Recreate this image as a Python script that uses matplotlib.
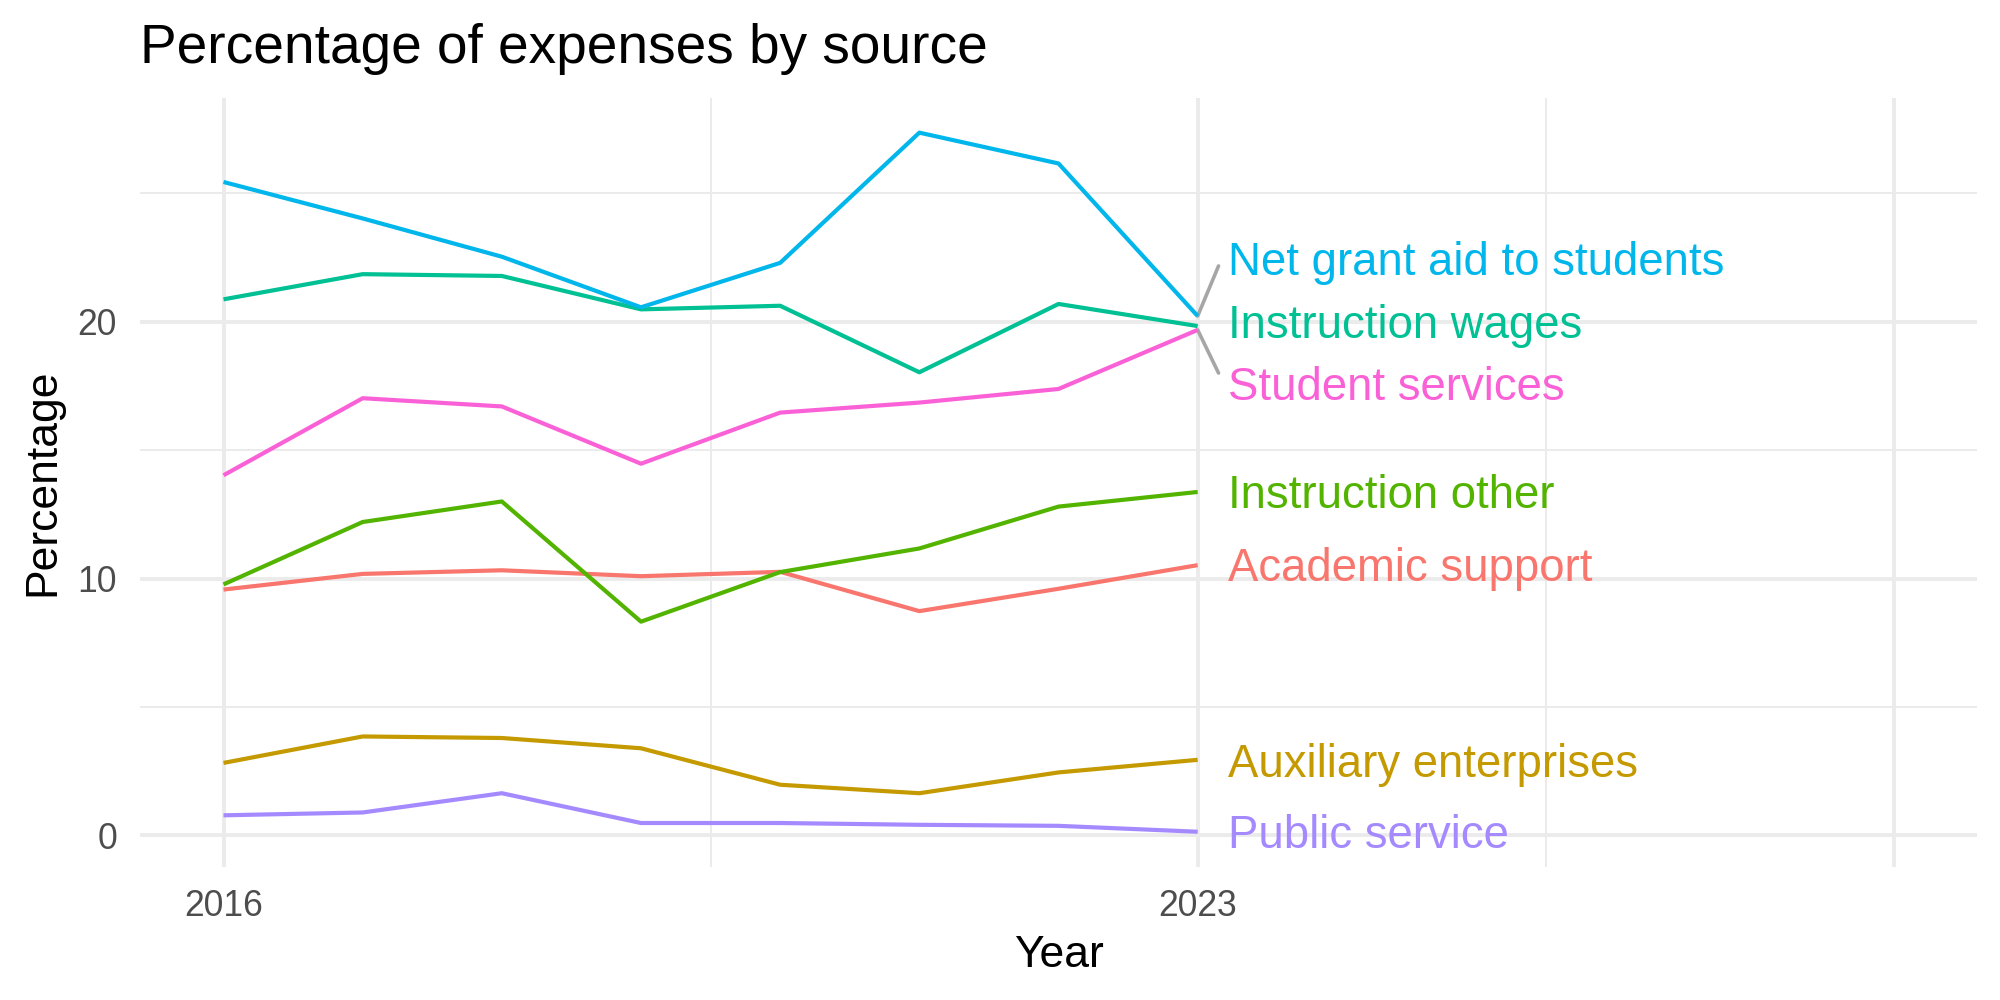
import matplotlib
matplotlib.use("Agg")
import matplotlib.pyplot as plt

plt.rcParams["font.family"] = ["Liberation Sans", "DejaVu Sans"]

# data
years = [2016, 2017, 2018, 2019, 2020, 2021, 2022, 2023]

academic_support = [9.57, 10.18, 10.32, 10.09, 10.26, 8.73, 9.60, 10.52]
auxiliary_enterprises = [2.82, 3.85, 3.79, 3.39, 1.97, 1.64, 2.45, 2.94]
instruction_other = [9.77, 12.20, 13.00, 8.32, 10.25, 11.17, 12.80, 13.37]
instruction_wages = [20.87, 21.85, 21.78, 20.48, 20.62, 18.03, 20.69, 19.83]
net_grant_aid = [25.44, 24.02, 22.53, 20.56, 22.29, 27.36, 26.16, 20.22]
public_service = [0.78, 0.89, 1.64, 0.48, 0.48, 0.41, 0.37, 0.14]
student_services = [14.02, 17.02, 16.70, 14.47, 16.46, 16.85, 17.38, 19.68]

series_names = [
    "Academic support",
    "Auxiliary enterprises",
    "Instruction other",
    "Instruction wages",
    "Net grant aid to students",
    "Public service",
    "Student services",
]
series_values = [
    academic_support,
    auxiliary_enterprises,
    instruction_other,
    instruction_wages,
    net_grant_aid,
    public_service,
    student_services,
]
# ggplot default hue palette, 7 levels
colors = ["#F8766D", "#C49A00", "#53B400", "#00C094", "#00B6EB", "#A58AFF", "#FB61D7"]

# label centres (repelled where the line ends crowd together)
label_y = [10.54, 2.91, 13.37, 20.01, 22.44, 0.13, 17.58]

x_ticks = [2016, 2023, 2028]
x_tick_labels = ["2016", "2023", ""]
x_minor = [2019.5, 2025.5]
y_ticks = [0, 10, 20]
y_minor = [5, 15, 25]

fig = plt.figure(figsize=(10, 5), dpi=200)
ax = fig.add_axes([0.07, 0.1333, 0.9185, 0.769])

grid_col = "#EBEBEB"
for x in x_ticks:
    ax.axvline(x, color=grid_col, lw=1.4, zorder=0)
for x in x_minor:
    ax.axvline(x, color=grid_col, lw=0.7, zorder=0)
for y in y_ticks:
    ax.axhline(y, color=grid_col, lw=1.4, zorder=0)
for y in y_minor:
    ax.axhline(y, color=grid_col, lw=0.7, zorder=0)

label_x = 2023.22
for name, vals, col, ly in zip(series_names, series_values, colors, label_y):
    ax.plot(years, vals, color=col, lw=1.5, solid_capstyle="butt", zorder=3)
    ax.annotate(name, xy=(label_x, ly), xytext=(0, -5.9), textcoords="offset points",
                ha="left", va="baseline", fontsize=16.4, color=col, zorder=4)
    end = vals[-1]
    if abs(ly - end) > 1.0:
        # connector from the line end to the displaced label
        ey = ly - 0.27 if ly > end else ly + 0.42
        ax.plot([years[-1], 2023.15], [end, ey], color="#A6A6A6", lw=1.3, zorder=2,
                solid_capstyle="round")

all_vals = [v for s in series_values for v in s]
lo, hi = min(all_vals), max(all_vals)
pad = 0.05 * (hi - lo)
ax.set_ylim(lo - pad, hi + pad)
ax.set_xlim(2016 - 0.6, 2028 + 0.6)

ax.set_xticks(x_ticks)
ax.set_xticklabels(x_tick_labels)
ax.set_yticks(y_ticks)
ax.tick_params(axis="both", length=0, labelsize=12.8, labelcolor="#4D4D4D")
ax.tick_params(axis="x", pad=8.0)
ax.tick_params(axis="y", pad=8.3)
for s in ax.spines.values():
    s.set_visible(False)

ax.set_xlabel("Year", fontsize=16, labelpad=4)
ax.set_ylabel("Percentage", fontsize=16, labelpad=5)

fig.text(0.07, 1 - 0.063, "Percentage of expenses by source", fontsize=19.8,
         ha="left", va="baseline")

fig.savefig("out.png", dpi=200, facecolor="white")
